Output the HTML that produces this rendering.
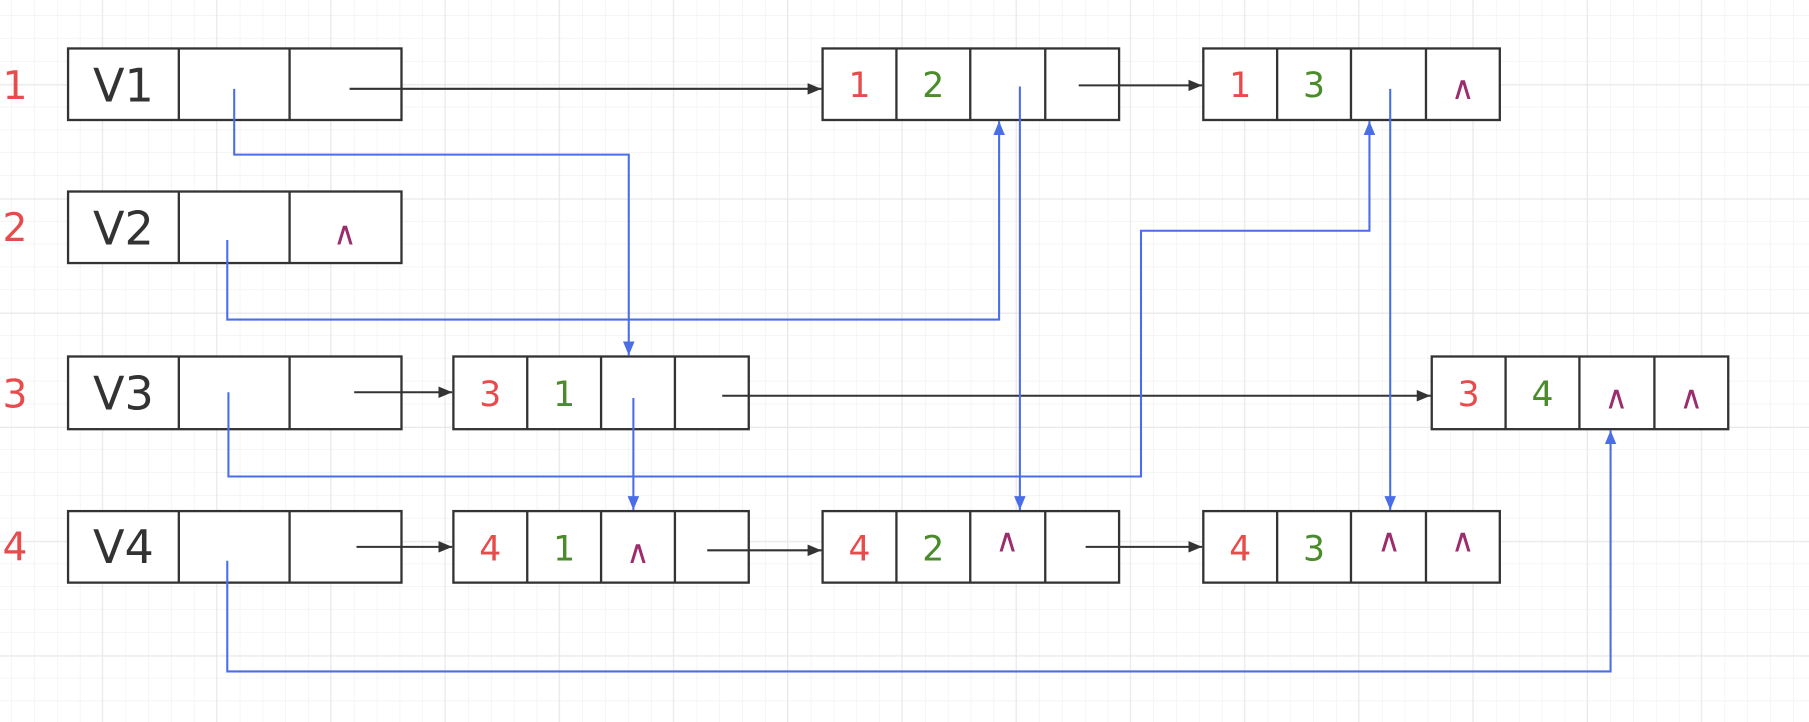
<!DOCTYPE html>
<html><head><meta charset="utf-8"><style>
html,body{margin:0;padding:0;background:#fff;}
svg{display:block;}
text{font-family:"DejaVu Sans","Liberation Sans",sans-serif;}
</style></head><body>
<svg width="1809" height="722" viewBox="0 0 1568 625.8" xmlns="http://www.w3.org/2000/svg">
<defs>
<pattern id="g" x="-9.5" y="-6" width="19.8" height="19.8" patternUnits="userSpaceOnUse">
<path d="M19.8 0V19.8M0 19.8H19.8" stroke="#efefef" stroke-width="1" fill="none"/>
</pattern>
<pattern id="G" x="-10" y="-25" width="99" height="99" patternUnits="userSpaceOnUse">
<path d="M99 0V99M0 99H99" stroke="#e4e4e4" stroke-width="1.3" fill="none"/>
</pattern>
<marker id="ab" markerWidth="12" markerHeight="10" refX="12" refY="5" orient="auto" markerUnits="userSpaceOnUse"><path d="M0 0L12 5L0 10Z" fill="#333"/></marker>
<marker id="au" markerWidth="12" markerHeight="10" refX="12" refY="5" orient="auto" markerUnits="userSpaceOnUse"><path d="M0 0L12 5L0 10Z" fill="#4a6ee8"/></marker>
</defs>
<rect width="1568" height="626" fill="#fff"/>
<rect width="1568" height="626" fill="url(#g)"/>
<rect width="1568" height="626" fill="url(#G)"/>

<g fill="#fff" stroke="#333" stroke-width="2">
<!-- head nodes -->
<rect x="59" y="42" width="289" height="62"/><path d="M155 42V104M251 42V104"/>
<rect x="59" y="166" width="289" height="62"/><path d="M155 166V228M251 166V228"/>
<rect x="59" y="309" width="289" height="63"/><path d="M155 309V372M251 309V372"/>
<rect x="59" y="443" width="289" height="62"/><path d="M155 443V505M251 443V505"/>
<!-- edge nodes -->
<rect x="713" y="42" width="257" height="62"/><path d="M777 42V104M841 42V104M906 42V104"/>
<rect x="1043" y="42" width="257" height="62"/><path d="M1107 42V104M1171 42V104M1236 42V104"/>
<rect x="393" y="309" width="256" height="63"/><path d="M457 309V372M521 309V372M585 309V372"/>
<rect x="1241" y="309" width="257" height="63"/><path d="M1305 309V372M1369 309V372M1434 309V372"/>
<rect x="393" y="443" width="256" height="62"/><path d="M457 443V505M521 443V505M585 443V505"/>
<rect x="713" y="443" width="257" height="62"/><path d="M777 443V505M841 443V505M906 443V505"/>
<rect x="1043" y="443" width="257" height="62"/><path d="M1107 443V505M1171 443V505M1236 443V505"/>
</g>

<!-- black arrows -->
<g stroke="#333" stroke-width="1.8" fill="none" marker-end="url(#ab)">
<path d="M303 77H712"/>
<path d="M935 74H1042"/>
<path d="M307 340H392"/>
<path d="M626 343H1240"/>
<path d="M309 474H392"/>
<path d="M613 477H712"/>
<path d="M941 474H1042"/>
</g>

<!-- blue arrows -->
<g stroke="#4a6ee8" stroke-width="1.8" fill="none" marker-end="url(#au)">
<path d="M203 77V134H545V308"/>
<path d="M197 208V277H866V105"/>
<path d="M884 75V442"/>
<path d="M549 345V442"/>
<path d="M198 340V413H989V200H1187V105"/>
<path d="M1205 77V442"/>
<path d="M197 486V582H1396V373"/>
</g>

<!-- row labels -->
<g fill="#e84b4b" font-size="34" text-anchor="middle">
<text x="13" y="86">1</text><text x="13" y="209">2</text><text x="13" y="353">3</text><text x="13" y="486">4</text>
</g>
<g fill="#333" font-size="40" text-anchor="middle">
<text x="107" y="88">V1</text><text x="107" y="212">V2</text><text x="107" y="355">V3</text><text x="107" y="488">V4</text>
</g>
<!-- node numbers -->
<g font-size="30" text-anchor="middle">
<text x="745" y="84" fill="#e84b4b">1</text><text x="809" y="84" fill="#4a8c2a">2</text>
<text x="1075" y="84" fill="#e84b4b">1</text><text x="1139" y="84" fill="#4a8c2a">3</text>
<text x="425" y="352" fill="#e84b4b">3</text><text x="489" y="352" fill="#4a8c2a">1</text>
<text x="1273" y="352" fill="#e84b4b">3</text><text x="1337" y="352" fill="#4a8c2a">4</text>
<text x="425" y="486" fill="#e84b4b">4</text><text x="489" y="486" fill="#4a8c2a">1</text>
<text x="745" y="486" fill="#e84b4b">4</text><text x="809" y="486" fill="#4a8c2a">2</text>
<text x="1075" y="486" fill="#e84b4b">4</text><text x="1139" y="486" fill="#4a8c2a">3</text>
</g>
<g fill="#9b2d6e" font-size="28" text-anchor="middle">
<text x="299" y="212">∧</text>
<text x="1268" y="86">∧</text>
<text x="1401" y="354">∧</text><text x="1466" y="354">∧</text>
<text x="553" y="488">∧</text>
<text x="873" y="478">∧</text>
<text x="1204" y="478">∧</text><text x="1268" y="478">∧</text>
</g>
</svg>
</body></html>
